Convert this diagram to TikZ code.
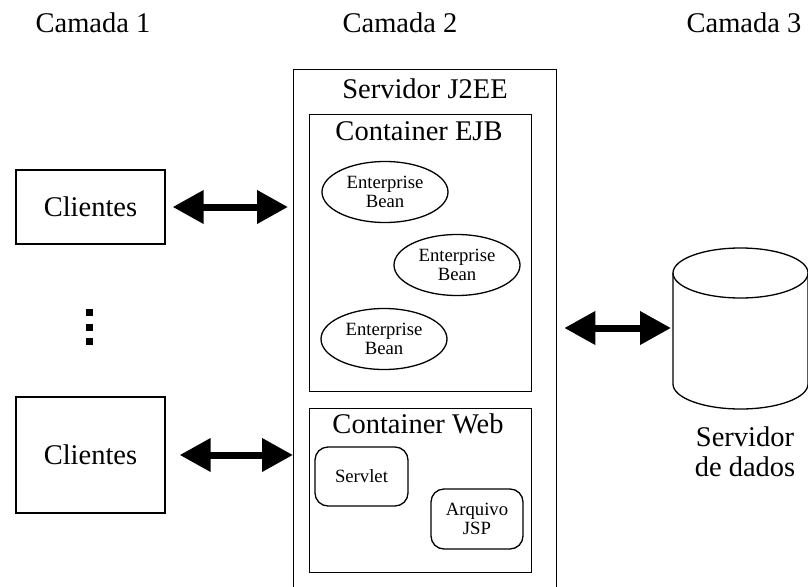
\documentclass[tikz,border=0pt]{standalone}
\usepackage{fontspec}
\setmainfont{Liberation Serif}
\usetikzlibrary{arrows.meta,shapes.geometric}

\tikzset{
  big/.style={font=\fontsize{28.5}{30}\selectfont, align=center},
  small/.style={font=\fontsize{18.7}{19.5}\selectfont, align=center},
  box/.style={draw, line width=1.3pt, inner sep=0pt},
  bean/.style={box, ellipse, small, minimum width=126pt, minimum height=61pt},
  comp/.style={box, rounded corners=13pt, small},
  pt/.style={fill, inner sep=0pt, minimum size=7pt},
  link/.style={{Triangle[length=31pt,width=32pt]}-{Triangle[length=31pt,width=32pt]}, line width=7pt},
}

\begin{document}
\begin{tikzpicture}[x=1pt, y=-1pt]
\useasboundingbox (0,0) rectangle (808,586);
\clip (0,0) rectangle (808,586);
% camadas
\node[big, anchor=base] (cam1) at (93,33) {Camada 1};
\node[big, anchor=base] (cam2) at (400,33) {Camada 2};
\node[big, anchor=base] (cam3) at (744,33) {Camada 3};
% camada 1
\node[box, big, minimum width=149pt, minimum height=74pt] (cli1) at (90.5,207) {Clientes};
\node[box, big, minimum width=149pt, minimum height=116pt] (cli2) at (90.5,455) {Clientes};
\node[pt] (dot1) at (89.5,312) {};
\node[pt] (dot2) at (89.5,327) {};
\node[pt] (dot3) at (89.5,341) {};
% camada 2
\node[box, anchor=north west, minimum width=263pt, minimum height=540pt] (j2ee) at (293,69) {};
\node[big, anchor=base] (j2eelbl) at (425,98) {Servidor J2EE};
\node[box, anchor=north west, minimum width=222pt, minimum height=277pt] (ejb) at (309,114) {};
\node[big, anchor=base] (ejblbl) at (419,140) {Container EJB};
\node[bean] (bean1) at (385,192) {Enterprise\\Bean};
\node[bean] (bean2) at (457,265) {Enterprise\\Bean};
\node[bean] (bean3) at (384,339) {Enterprise\\Bean};
\node[box, anchor=north west, minimum width=222pt, minimum height=164pt] (web) at (309,408) {};
\node[big, anchor=base] (weblbl) at (418,433) {Container Web};
\node[comp, minimum width=93pt, minimum height=59pt] (servlet) at (361.5,476.5) {Servlet};
\node[comp, minimum width=92pt, minimum height=60pt] (jsp) at (477,519) {Arquivo\\JSP};
% camada 3
\pgfmathsetmacro{\cx}{740.5}
\pgfmathsetmacro{\rx}{67.5}
\draw[line width=1.3pt] (\cx,273) ellipse [x radius=\rx, y radius=25];
\draw[line width=1.3pt] (\cx-\rx,273) -- (\cx-\rx,384)
  arc[start angle=180, end angle=0, x radius=\rx, y radius=25] -- (\cx+\rx,273);
\coordinate (db) at (\cx-\rx,328);
\node[big] (dblbl) at (745,452) {Servidor\\de dados};
% ligacoes
\draw[link, shorten <=7pt, shorten >=5pt] (cli1.east) -- (cli1.east -| j2ee.west);
\draw[link, shorten <=14pt, shorten >=0pt] (cli2.east) -- (cli2.east -| j2ee.west);
\draw[link, shorten <=7pt, shorten >=2pt] (db -| j2ee.east) -- (db);
\end{tikzpicture}
\end{document}
